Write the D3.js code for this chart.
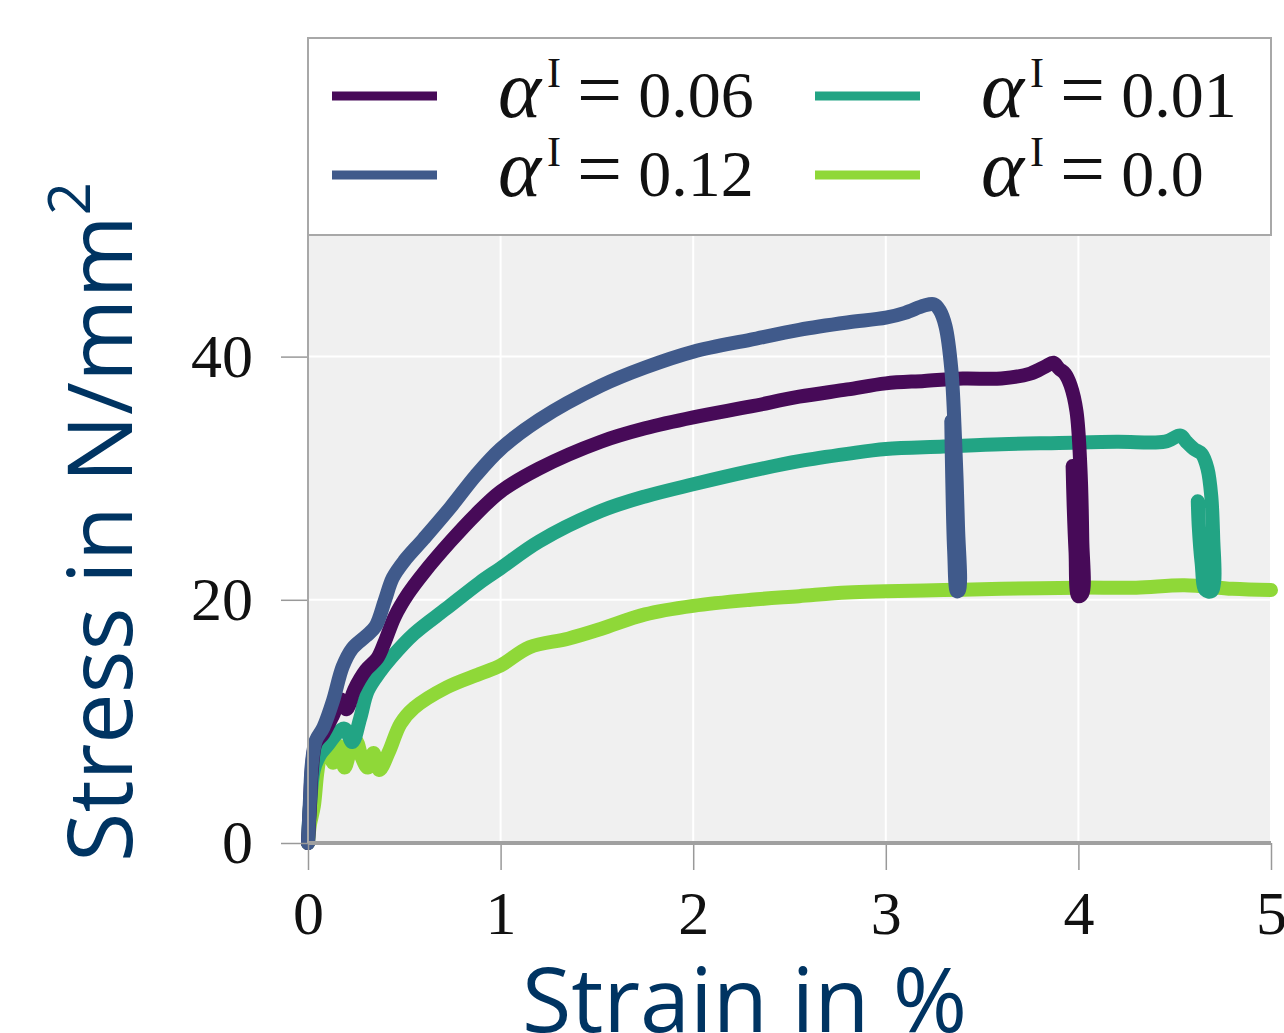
<!DOCTYPE html>
<html>
<head>
<meta charset="utf-8">
<script src="https://cdn.jsdelivr.net/npm/d3@7"></script>
<style>
  body { margin: 0; background: #fff; }
</style>
</head>
<body>
<svg id="chart" width="1284" height="1033"></svg>
<script>
// stress-strain curves: [strain %, stress N/mm2]
var alpha006 = [[0,0],[0.01,3],[0.02,6],[0.04,8.2],[0.08,9],[0.13,10.5],[0.17,11.8],[0.2,11],
  [0.24,12.6],[0.3,14.2],[0.36,15.2],[0.4,16.6],[0.45,18.6],[0.52,20.5],[0.6,22.2],[0.74,24.8],
  [0.87,27],[1.0,28.9],[1.2,30.8],[1.52,33],[1.75,34.1],[2.0,35],[2.3,35.9],[2.55,36.7],[2.8,37.3],
  [3.0,37.8],[3.2,38.0],[3.4,38.2],[3.6,38.2],[3.75,38.6],[3.83,39.2],[3.87,39.5],[3.9,39.0],
  [3.93,38.6],[3.96,37.6],[3.99,35.5],[4.01,31],[4.02,25],[4.02,20.5],[4.0,20.3],[3.985,24],
  [3.975,28],[3.97,31]];
var alpha012 = [[0,0],[0.01,3.5],[0.02,6.5],[0.04,8.4],[0.08,9.5],[0.13,11.7],[0.18,14.5],[0.23,16],
  [0.3,17],[0.35,17.8],[0.4,20],[0.44,21.8],[0.5,23.2],[0.6,25],[0.74,27.6],[0.87,30.2],[1.0,32.4],
  [1.2,34.8],[1.52,37.6],[1.75,39.1],[2.0,40.4],[2.3,41.4],[2.55,42.2],[2.8,42.8],[3.0,43.2],
  [3.1,43.6],[3.2,44.2],[3.25,44.3],[3.28,43.8],[3.31,42.5],[3.34,39],[3.36,33],[3.375,26],
  [3.38,20.8],[3.37,20.7],[3.355,24],[3.345,30],[3.34,34.7]];
var alpha001 = [[0,0],[0.01,3],[0.03,6],[0.06,7.2],[0.1,8],[0.15,9],[0.19,9.4],[0.23,8.3],
  [0.27,10.2],[0.31,12.5],[0.37,14],[0.43,15.2],[0.55,17.2],[0.72,19.3],[0.89,21.4],[1.0,22.6],
  [1.2,24.8],[1.52,27.3],[1.75,28.5],[2.0,29.5],[2.3,30.6],[2.55,31.4],[2.8,32.0],[3.0,32.4],
  [3.3,32.6],[3.6,32.8],[3.9,32.9],[4.2,33.0],[4.45,33.0],[4.53,33.5],[4.56,33.0],[4.6,32.4],
  [4.64,32.0],[4.67,30.8],[4.69,28.5],[4.7,25],[4.705,21.5],[4.69,20.7],[4.66,20.8],[4.64,23],
  [4.625,26],[4.62,28.1]];
var alpha000 = [[0,0],[0.01,1.5],[0.03,3],[0.05,6],[0.07,7.5],[0.1,8],[0.13,6.6],[0.16,8],
  [0.19,6.2],[0.22,7.6],[0.25,8.4],[0.28,7],[0.31,6.2],[0.34,7.4],[0.37,6.0],[0.42,7.5],[0.48,9.8],
  [0.55,11.1],[0.72,12.8],[0.89,13.9],[1.0,14.6],[1.15,16.1],[1.35,16.8],[1.52,17.6],[1.75,18.8],
  [2.0,19.5],[2.3,20.0],[2.55,20.3],[2.8,20.6],[3.0,20.7],[3.3,20.8],[3.6,20.9],[4.0,21],[4.3,21],
  [4.55,21.2],[4.8,20.9],[5.0,20.8]];

var seriesNames = ["0.06", "0.12", "0.01", "0.0"];
var seriesData = [alpha006, alpha012, alpha001, alpha000];
var seriesColors = ["#470a58", "#405a8b", "#22a484", "#8fd838"];
var xTicks = [0, 1, 2, 3, 4, 5];
var yTicks = [0, 20, 40];

var svg = d3.select("#chart"),
    margin = {top: 235, right: 13, bottom: 190, left: 308},
    width = +svg.attr("width") - margin.left - margin.right,
    height = +svg.attr("height") - margin.top - margin.bottom,
    g = svg.append("g").attr("transform", "translate(" + margin.left + "," + margin.top + ")");

var x = d3.scaleLinear().domain([0, 5]).range([0, width]);
var y = d3.scaleLinear().domain([0, 50]).range([height, 0]);

var serif = "'Liberation Serif', 'DejaVu Serif', serif";
var sans = "'Open Sans', 'Noto Sans', sans-serif";

// plot background + white grid
g.append("rect")
    .attr("width", width)
    .attr("height", height)
    .attr("fill", "#f0f0f0");

g.append("g").selectAll("line")
    .data(xTicks.slice(1))
    .enter().append("line")
      .attr("x1", function(d) { return x(d); })
      .attr("x2", function(d) { return x(d); })
      .attr("y1", 0)
      .attr("y2", height)
      .attr("stroke", "#fff")
      .attr("stroke-width", 2);

g.append("g").selectAll("line")
    .data(yTicks.slice(1))
    .enter().append("line")
      .attr("x1", 0)
      .attr("x2", width)
      .attr("y1", function(d) { return y(d); })
      .attr("y2", function(d) { return y(d); })
      .attr("stroke", "#fff")
      .attr("stroke-width", 2);

// curves
var line = d3.line()
    .x(function(d) { return x(d[0]); })
    .y(function(d) { return y(d[1]); })
    .curve(d3.curveCatmullRom.alpha(0.5));

// draw light green first so the others lie on top
var order = [3, 2, 0, 1];
order.forEach(function(i) {
  g.append("path")
      .datum(seriesData[i])
      .attr("fill", "none")
      .attr("stroke", seriesColors[i])
      .attr("stroke-width", 14)
      .attr("stroke-linejoin", "round")
      .attr("stroke-linecap", "round")
      .attr("d", line);
});

// axes
var xAxis = g.append("g")
    .attr("transform", "translate(0," + height + ")")
    .call(d3.axisBottom(x).tickValues(xTicks).tickFormat(d3.format("d")).tickSize(27).tickPadding(20));
xAxis.select(".domain").remove();
xAxis.selectAll("line").attr("stroke", "#999").attr("stroke-width", 1.5);
xAxis.selectAll("text").attr("font-family", serif).attr("font-size", 62).attr("fill", "#111");

var yAxis = g.append("g")
    .call(d3.axisLeft(y).tickValues(yTicks).tickFormat(d3.format("d")).tickSize(27).tickPadding(28));
yAxis.select(".domain").remove();
yAxis.selectAll("line").attr("stroke", "#999").attr("stroke-width", 1.5);
yAxis.selectAll("text").attr("font-family", serif).attr("font-size", 62).attr("fill", "#111");

g.append("line")
    .attr("x1", 0).attr("x2", width)
    .attr("y1", height).attr("y2", height)
    .attr("stroke", "#a0a0a0")
    .attr("stroke-width", 4);

g.append("line")
    .attr("x1", 0).attr("x2", 0)
    .attr("y1", 0).attr("y2", height)
    .attr("stroke", "#a8a8a8")
    .attr("stroke-width", 2);

// legend box above the plot
var legend = svg.append("g");
legend.append("rect")
    .attr("x", margin.left)
    .attr("y", 38)
    .attr("width", width)
    .attr("height", margin.top - 38)
    .attr("fill", "#fff")
    .attr("stroke", "#a8a8a8")
    .attr("stroke-width", 2);

var items = legend.selectAll("g.item")
    .data(seriesNames)
    .enter().append("g")
      .attr("class", "item")
      .attr("transform", function(d, i) {
        return "translate(" + (332 + Math.floor(i / 2) * 483) + "," + (96 + (i % 2) * 79) + ")";
      });

items.append("line")
    .attr("x1", 0).attr("x2", 105)
    .attr("stroke", function(d, i) { return seriesColors[i]; })
    .attr("stroke-width", 9);

var label = items.append("text")
    .attr("x", 166)
    .attr("y", 21)
    .attr("font-family", serif)
    .attr("font-size", 66)
    .attr("fill", "#111");
label.append("tspan").attr("font-style", "italic").attr("font-size", 82).text("α");
label.append("tspan").attr("font-size", 42).attr("dx", 6).attr("dy", -30).text("I");
label.append("tspan").attr("dy", 30).attr("dx", 16).attr("font-size", 80).text("=");
label.append("tspan").attr("dx", 16).text(function(d) { return d; });

// axis titles
svg.append("text")
    .attr("x", margin.left + width / 2 - 45)
    .attr("y", 1032)
    .attr("text-anchor", "middle")
    .attr("font-family", sans)
    .attr("font-size", 90)
    .attr("fill", "#003462")
    .text("Strain in %");

var ylab = svg.append("text")
    .attr("transform", "translate(132,522) rotate(-90)")
    .attr("text-anchor", "middle")
    .attr("font-family", sans)
    .attr("font-size", 90)
    .attr("fill", "#003462");
ylab.append("tspan").text("Stress in N/mm");
ylab.append("tspan").attr("font-size", 58).attr("dy", -42).text("2");
</script>
</body>
</html>
